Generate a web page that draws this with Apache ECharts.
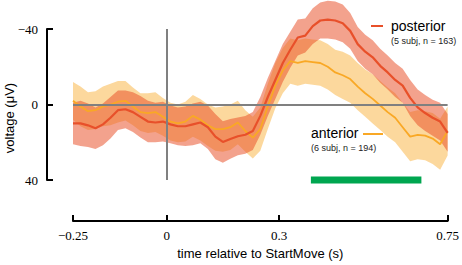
<!DOCTYPE html>
<html>
<head>
<meta charset="utf-8">
<script src="https://cdn.jsdelivr.net/npm/echarts@6/dist/echarts.min.js"></script>
<style>
html, body { margin: 0; padding: 0; background: #fff; }
#erp-chart { width: 462px; height: 265px; }
</style>
</head>
<body>
<div id="erp-chart"></div>
<script>
// time axis (s, relative to StartMove)
var times = [-0.25, -0.23, -0.21, -0.19, -0.17, -0.15, -0.13, -0.11, -0.09, -0.07, -0.05, -0.03, -0.01,
    0.01, 0.03, 0.05, 0.07, 0.09, 0.11, 0.13, 0.15, 0.17, 0.19, 0.21, 0.23, 0.25,
    0.27, 0.29, 0.31, 0.33, 0.35, 0.37, 0.39, 0.41, 0.43, 0.45, 0.47, 0.49,
    0.51, 0.53, 0.55, 0.57, 0.59, 0.61, 0.63, 0.65, 0.67, 0.69, 0.71, 0.73, 0.75];

// posterior (5 subj, n = 163) mean and band half-width, in µV
var posteriorMean = [10, 10, 11, 12.5, 10.5, 7, 3, 2.5, 4, 6.5, 9, 9.5, 9,
    10.5, 11.5, 11.5, 10.5, 9.5, 12, 17, 19.8, 18.2, 16.8, 16, 14, 6,
    -4, -13, -22, -29, -35.5, -36.5, -41.5, -44.5, -45, -44.5, -43, -39,
    -32, -28, -25, -20.5, -17, -13, -10, -3.5, 1.5, 4.5, 7, 9, 15];
var posteriorErr = [11, 12, 11.5, 11, 11, 11, 10.5, 10, 10.5, 11, 11, 10.5, 10.5,
    10, 10, 10.5, 11, 11, 11.5, 12, 11, 10.5, 10, 10, 10, 10,
    10, 10, 10, 9.5, 9.5, 9, 9.5, 9.5, 10, 10, 10, 9.5,
    9, 9, 9, 9, 9, 9, 9, 9.5, 9.5, 9.5, 9.5, 10, 10];

// anterior (6 subj, n = 194)
var anteriorMean = [-2, 1, 3.5, 3, 1, 0, -1.5, -2, 1, 4, 4.5, 4, 6.5,
    9, 10, 9, 6, 8, 11, 13, 13, 12, 9.5, 14, 17.5, 13,
    1, -10, -18, -23, -22, -23, -22.5, -22, -20, -17, -15.5, -13.5,
    -9.5, -6, -3, 0.5, 4, 7, 12, 17, 16, 16.5, 18, 21, 14];
var anteriorErr = [10, 10.5, 10, 10, 10.5, 11, 11, 10.5, 10, 10, 10.5, 10.5, 10,
    10, 10, 10.5, 11, 11, 11, 11.5, 12, 12, 11.5, 11, 11, 11.5,
    12, 12, 12, 12, 12, 12, 12, 12, 12, 12, 12.5, 12.5,
    12.5, 12.5, 13, 13, 13, 13, 13, 13, 13, 13, 13.5, 13.5, 13];

var xTicks = [-0.25, 0, 0.3, 0.75];
var yTicks = [-40, 0, 40];
var sigWindow = [0.385, 0.68];   // significant time window (green bar)
var sigLevel = 40;

var posteriorColor = '#E8502A';
var anteriorColor = '#F9A825';

function pairs(vals) {
    return times.map(function (t, i) { return [t, vals[i]]; });
}
function minusFmt(v) {
    return v < 0 ? '\u2212' + Math.abs(v) : String(v);
}

// shaded band (mean +/- err) drawn as one polygon through the axes' scales
function bandSeries(name, mean, err, fill) {
    return {
        name: name + ' band', type: 'custom', silent: true, z: 2,
        data: [[times[0], mean[0]]],
        encode: { x: 0, y: 1 },
        renderItem: function (params, api) {
            var pts = [];
            for (var i = 0; i < times.length; i++) {
                pts.push(api.coord([times[i], mean[i] - err[i]]));
            }
            for (var j = times.length - 1; j >= 0; j--) {
                pts.push(api.coord([times[j], mean[j] + err[j]]));
            }
            return { type: 'polygon', shape: { points: pts }, style: { fill: fill } };
        }
    };
}

var erpChart = echarts.init(document.getElementById('erp-chart'), null, { renderer: 'svg' });

var series = [
    {
        name: 'ref', type: 'line', data: [], z: 1, silent: true,
        markLine: {
            silent: true, symbol: 'none',
            label: { show: false },
            lineStyle: { color: '#808080', width: 2, type: 'solid' },
            data: [{ yAxis: 0 }, { xAxis: 0 }]
        }
    },
    bandSeries('anterior', anteriorMean, anteriorErr, 'rgba(249,168,37,0.45)'),
    bandSeries('posterior', posteriorMean, posteriorErr, 'rgba(232,80,40,0.53)'),
    {
        name: 'anterior', type: 'line', data: pairs(anteriorMean), symbol: 'none', clip: false,
        lineStyle: { color: anteriorColor, width: 1.8 }, z: 3
    },
    {
        name: 'posterior', type: 'line', data: pairs(posteriorMean), symbol: 'none', clip: false,
        lineStyle: { color: posteriorColor, width: 2.2 }, z: 4
    },
    {
        name: 'significant', type: 'line', symbol: 'none', silent: true, clip: false,
        data: [[sigWindow[0], sigLevel], [sigWindow[1], sigLevel]],
        lineStyle: { color: '#00A650', width: 7, cap: 'butt' }, z: 5
    }
];

var erpChartOption = {
    animation: false,
    grid: { left: 73, right: 11, top: 29, bottom: 79 },
    xAxis: {
        type: 'value', min: -0.25, max: 0.75, offset: 41,
        name: 'time relative to StartMove (s)',
        nameLocation: 'middle', nameGap: 25,
        nameTextStyle: { fontFamily: 'Liberation Sans', fontSize: 13, color: '#000' },
        axisLine: { show: true, onZero: false, lineStyle: { color: '#000', width: 2 } },
        axisTick: { show: true, inside: true, length: 6, customValues: xTicks,
            lineStyle: { color: '#000', width: 2 } },
        axisLabel: { customValues: xTicks, formatter: minusFmt, margin: 8,
            fontFamily: 'Liberation Serif', fontSize: 13, color: '#000' },
        splitLine: { show: false }
    },
    yAxis: {
        type: 'value', inverse: true, min: yTicks[0], max: yTicks[2], interval: 40, offset: 26,
        axisLine: { show: true, onZero: false, lineStyle: { color: '#000', width: 2 } },
        axisTick: { show: true, inside: true, length: 6, lineStyle: { color: '#000', width: 2 } },
        axisLabel: { formatter: minusFmt, margin: 9,
            fontFamily: 'Liberation Serif', fontSize: 13, color: '#000' },
        splitLine: { show: false }
    },
    graphic: [
        { type: 'text', x: 9, y: 118, rotation: Math.PI / 2,
          style: { text: 'voltage (\u03bcV)', fill: '#000', font: '13px "Liberation Sans"',
                   textAlign: 'center', textVerticalAlign: 'middle', align: 'center', verticalAlign: 'middle' } },
        { type: 'line', shape: { x1: 371, y1: 26, x2: 383, y2: 26 },
          style: { stroke: posteriorColor, lineWidth: 2 } },
        { type: 'text', x: 391, y: 26,
          style: { text: 'posterior', fill: '#000', font: '14px "Liberation Sans"',
                   textAlign: 'left', textVerticalAlign: 'middle', align: 'left', verticalAlign: 'middle' } },
        { type: 'text', x: 391, y: 41,
          style: { text: '(5 subj, n = 163)', fill: '#222', font: '9px "Liberation Sans"',
                   textAlign: 'left', textVerticalAlign: 'middle', align: 'left', verticalAlign: 'middle' } },
        { type: 'text', x: 311, y: 133,
          style: { text: 'anterior', fill: '#000', font: '14px "Liberation Sans"',
                   textAlign: 'left', textVerticalAlign: 'middle', align: 'left', verticalAlign: 'middle' } },
        { type: 'line', shape: { x1: 363, y1: 134, x2: 383, y2: 134 },
          style: { stroke: anteriorColor, lineWidth: 2 } },
        { type: 'text', x: 311, y: 148,
          style: { text: '(6 subj, n = 194)', fill: '#222', font: '9px "Liberation Sans"',
                   textAlign: 'left', textVerticalAlign: 'middle', align: 'left', verticalAlign: 'middle' } }
    ],
    series: series
};

erpChart.setOption(erpChartOption);
</script>
</body>
</html>
